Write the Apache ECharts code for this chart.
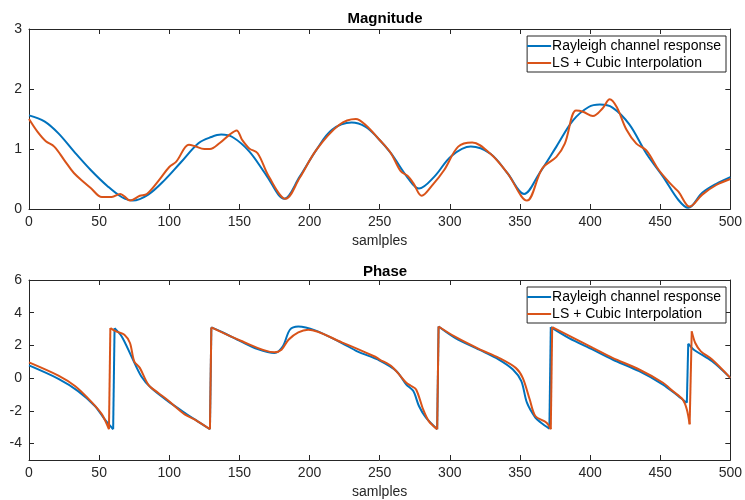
<!DOCTYPE html>
<html>
<head>
<meta charset="utf-8">
<script src="https://cdn.jsdelivr.net/npm/echarts@6/dist/echarts.min.js"></script>
<style>html,body{margin:0;padding:0;background:#fff}#c{width:745px;height:500px}</style>
</head>
<body>
<div id="c"></div>
<script>
// ---- data ----
var seriesNames = ['Rayleigh channel response', 'LS + Cubic Interpolation'];
var titles = ['Magnitude', 'Phase'];
var xLabel = 'samlples';
var magTicks = [0, 1, 2, 3];
var phaseTicks = [-4, -2, 0, 2, 4, 6];

var magRayleigh = [[0,1.56],[11,1.46],[21,1.26],[32,0.96],[44,0.65],[56,0.38],[66,0.2],[74,0.14],[85,0.24],[97,0.49],[108,0.77],[121,1.1],[130,1.2],[137,1.24],[145,1.2],[157,0.96],[169,0.57],[182,0.17],[193,0.54],[205,0.99],[216,1.32],[230,1.44],[240,1.37],[248,1.2],[258,0.93],[270,0.52],[278,0.34],[289,0.54],[301,0.88],[315,1.04],[329,0.92],[341,0.6],[353,0.25],[364,0.6],[376,1.04],[388,1.48],[399,1.7],[407,1.74],[416,1.69],[428,1.41],[440,0.93],[452,0.54],[463,0.15],[470,0.02],[480,0.27],[490,0.42],[500,0.53]];

var magLS = [[0,1.5],[6,1.29],[12,1.13],[18,1.04],[25,0.82],[32,0.6],[40,0.43],[44,0.35],[52,0.2],[59,0.2],[65,0.25],[68,0.21],[72,0.14],[79,0.22],[84,0.25],[92,0.46],[100,0.7],[105,0.79],[114,1.07],[118,1.05],[125,1.0],[129,1.0],[136,1.1],[143,1.24],[148,1.31],[152,1.15],[157,1.01],[163,0.93],[171,0.54],[183,0.17],[193,0.52],[205,0.99],[221,1.4],[233,1.5],[240,1.4],[250,1.15],[258,0.93],[265,0.63],[270,0.55],[274,0.43],[280,0.22],[287,0.38],[296,0.65],[306,1.04],[316,1.11],[329,0.92],[341,0.6],[355,0.14],[366,0.68],[376,0.87],[382,1.09],[390,1.64],[395,1.62],[402,1.55],[409,1.68],[414,1.83],[419,1.7],[426,1.32],[433,1.09],[440,0.98],[449,0.65],[459,0.38],[463,0.29],[471,0.04],[480,0.24],[490,0.4],[500,0.5]];

var phaseRayleigh = [[0,0.78],[21,-0.04],[35,-0.79],[47,-1.7],[54,-2.52],[60,-3.12],[61,3.06],[66,2.56],[73,1.34],[80,0.12],[87,-0.59],[99,-1.4],[111,-2.11],[120,-2.62],[129,-3.12],[130,3.1],[139,2.76],[151,2.25],[163,1.78],[175,1.54],[181,1.95],[186,2.96],[192,3.16],[204,2.92],[223,2.15],[234,1.64],[250,1.08],[262,0.43],[269,-0.39],[274,-0.79],[278,-1.7],[283,-2.41],[291,-3.12],[292,3.16],[304,2.45],[321,1.74],[335,1.14],[345,0.53],[351,-0.18],[355,-1.5],[361,-2.41],[365,-2.72],[371,-3.08],[372,3.12],[385,2.45],[402,1.74],[416,1.14],[435,0.43],[452,-0.39],[463,-1.1],[469,-1.5],[470,2.11],[474,1.74],[487,1.03],[500,0.02]];

var phaseLS = [[0,0.97],[21,0.16],[33,-0.49],[44,-1.4],[52,-2.21],[57,-3.12],[58,3.06],[62,2.86],[68,2.66],[72,2.15],[75,1.03],[79,0.63],[85,-0.39],[92,-0.89],[99,-1.35],[111,-2.21],[118,-2.52],[129,-3.12],[130,3.1],[151,2.29],[175,1.58],[180,1.74],[185,2.35],[192,2.8],[199,2.96],[223,2.19],[246,1.34],[250,1.14],[259,0.69],[269,-0.28],[272,-0.45],[276,-0.69],[281,-1.91],[285,-2.62],[291,-3.12],[292,3.16],[304,2.52],[321,1.78],[335,1.24],[347,0.63],[352,0.02],[357,-1.3],[361,-2.31],[369,-2.72],[372,-3.12],[373,3.12],[402,1.85],[416,1.24],[435,0.53],[452,-0.28],[459,-0.79],[466,-1.3],[469,-1.91],[471,-2.82],[472.5,2.86],[475,2.15],[479,1.64],[487,1.14],[500,0.02]];

// ---- chart ----
var FONT = 'Liberation Sans';
var AX = '#262626';
var BLUE = '#0072BD', RED = '#D95319';
var chart = echarts.init(document.getElementById('c'), null, {renderer: 'canvas'});

function xAx(gi, pos, labels) {
  return {
    type: 'value', gridIndex: gi, position: pos, min: 0, max: 500, interval: 50,
    name: labels ? xLabel : '', nameLocation: 'middle', nameGap: 25,
    nameTextStyle: {color: AX, fontFamily: FONT, fontSize: 14},
    axisLine: {show: true, onZero: false, lineStyle: {color: AX, width: 1}},
    axisTick: {show: true, inside: true, length: 5, lineStyle: {color: AX}},
    axisLabel: {show: labels, color: AX, fontFamily: FONT, fontSize: 14, margin: 6},
    splitLine: {show: false}
  };
}
function yAx(gi, pos, labels, mn, mx, ticks) {
  return {
    type: 'value', gridIndex: gi, position: pos, min: mn, max: mx,
    axisLine: {show: true, onZero: false, lineStyle: {color: AX, width: 1}},
    axisTick: {show: true, inside: true, length: 5, customValues: ticks, lineStyle: {color: AX}},
    axisLabel: {show: labels, customValues: ticks, color: AX, fontFamily: FONT, fontSize: 14, margin: 7},
    splitLine: {show: false}
  };
}
function legendAt(top) {
  return {
    top: top, right: 19, orient: 'vertical', data: seriesNames,
    backgroundColor: '#fff', borderColor: AX, borderWidth: 1,
    padding: [3, 5, 2, 0], itemGap: 3, itemWidth: 24, itemHeight: 14,
    icon: 'path://M0,6 L24,6 L24,8 L0,8 Z',
    textStyle: {color: '#000', fontFamily: FONT, fontSize: 14, padding: [0, 0, 0, -4]},
    selectedMode: false
  };
}
function line(name, data, xi, yi, color, smooth) {
  return {
    name: name, type: 'line', data: data, xAxisIndex: xi, yAxisIndex: yi,
    showSymbol: false, symbol: 'none', smooth: smooth,
    lineStyle: {color: color, width: 2}, itemStyle: {color: color},
    z: name === seriesNames[1] ? 3 : 2
  };
}
// split a wrapped-phase curve into smooth pieces and straight wrap jumps
function phaseSeries(name, data, color) {
  var out = [], cur = [data[0]];
  for (var i = 1; i < data.length; i++) {
    if (Math.abs(data[i][1] - data[i - 1][1]) > 3) {
      out.push(line(name, cur, 2, 2, color, 0.3));
      out.push(line(name, [data[i - 1], data[i]], 2, 2, color, false));
      cur = [data[i]];
    } else {
      cur.push(data[i]);
    }
  }
  out.push(line(name, cur, 2, 2, color, 0.3));
  return out;
}

var series = [
  line(seriesNames[0], magRayleigh, 0, 0, BLUE, 0.35),
  line(seriesNames[1], magLS, 0, 0, RED, 0.35)
].concat(phaseSeries(seriesNames[0], phaseRayleigh, BLUE), phaseSeries(seriesNames[1], phaseLS, RED));

chart.setOption({
  animation: false,
  backgroundColor: '#fff',
  title: [
    {text: titles[0], left: 380, top: 6, textAlign: 'center', textStyle: {fontFamily: FONT, fontSize: 15, fontWeight: 'bold', color: '#000'}},
    {text: titles[1], left: 380, top: 259, textAlign: 'center', textStyle: {fontFamily: FONT, fontSize: 15, fontWeight: 'bold', color: '#000'}}
  ],
  grid: [
    {left: 29, top: 29, width: 702, height: 180},
    {left: 29, top: 280, width: 702, height: 181}
  ],
  xAxis: [xAx(0, 'bottom', true), xAx(0, 'top', false), xAx(1, 'bottom', true), xAx(1, 'top', false)],
  yAxis: [
    yAx(0, 'left', true, 0, 3, magTicks), yAx(0, 'right', false, 0, 3, magTicks),
    yAx(1, 'left', true, -5, 6, phaseTicks), yAx(1, 'right', false, -5, 6, phaseTicks)
  ],
  legend: [legendAt(36), legendAt(287)],
  series: series
});
</script>
</body>
</html>
